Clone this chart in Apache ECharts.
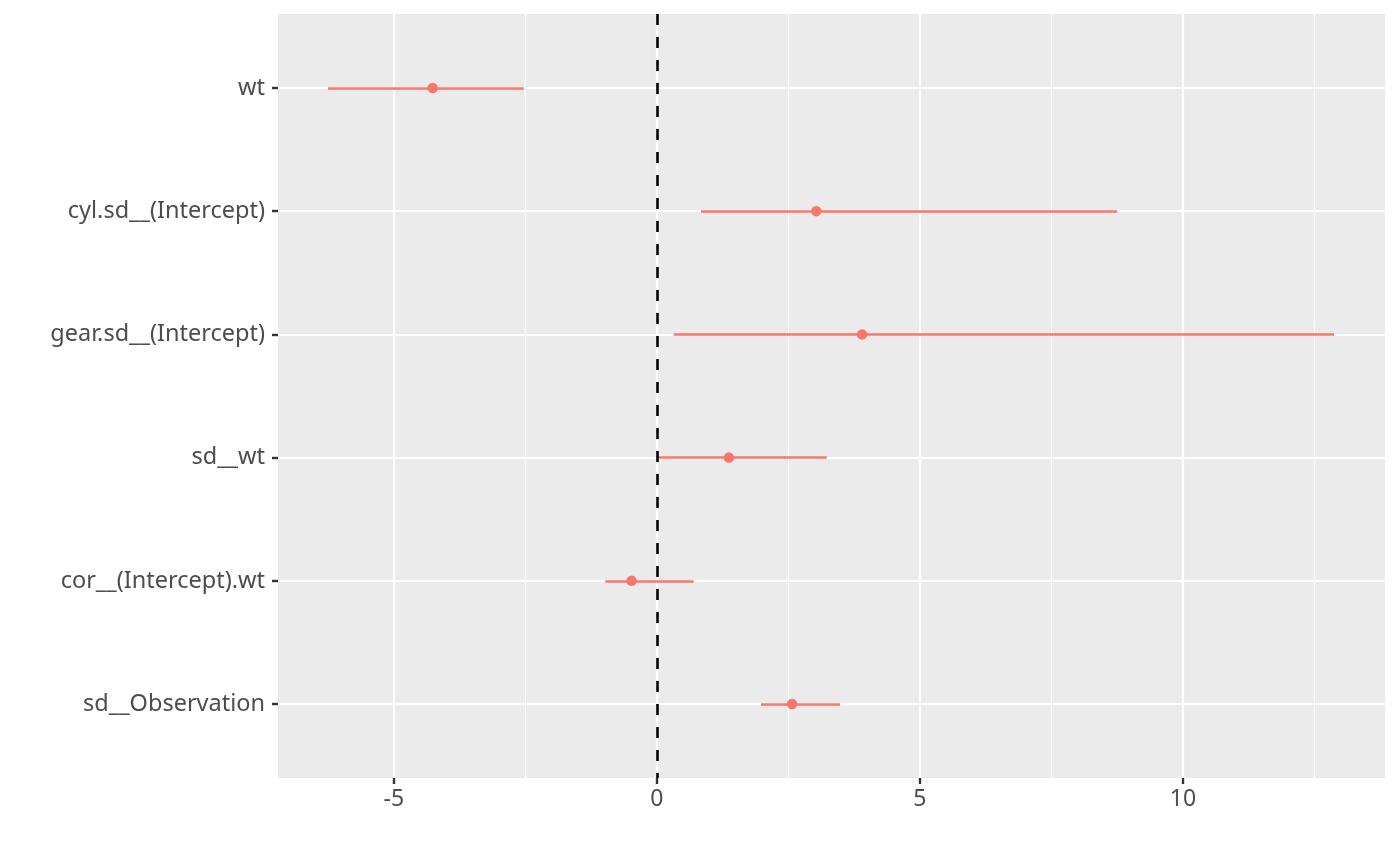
<!DOCTYPE html>
<html lang="en">
<head>
    <meta charset="UTF-8">
    <title>Coefficient plot</title>
    <script src="https://cdn.jsdelivr.net/npm/echarts@6.0.0/dist/echarts.min.js"></script>
    <style>
        html, body { margin: 0; padding: 0; background: #fff; }
        #chart { width: 1400px; height: 865px; }
    </style>
</head>
<body>
    <div id="chart"></div>
<script>
    // terms, top to bottom
    var terms = ['wt', 'cyl.sd__(Intercept)', 'gear.sd__(Intercept)', 'sd__wt', 'cor__(Intercept).wt', 'sd__Observation'];
    var estimate = [-4.26, 3.03, 3.90, 1.37, -0.48, 2.57];
    var lower = [-6.25, 0.84, 0.32, 0.01, -0.98, 1.98];
    var upper = [-2.53, 8.75, 12.87, 3.23, 0.70, 3.48];
    var xMajor = [-5, 0, 5, 10];
    var xMinor = [-2.5, 2.5, 7.5, 12.5];

    var chart = echarts.init(document.getElementById('chart'));

    var rows = terms.map(function (t, i) { return i + 1; });
    var pointData = estimate.map(function (v, i) { return [v, i + 1]; });

    // panel grid lines
    var gridLines = xMinor.map(function (v) {
        return { xAxis: v, lineStyle: { color: '#fff', width: 1.1, type: 'solid' } };
    }).concat(xMajor.map(function (v) {
        return { xAxis: v, lineStyle: { color: '#fff', width: 2.2, type: 'solid' } };
    })).concat(rows.map(function (v) {
        return { yAxis: v, lineStyle: { color: '#fff', width: 2.2, type: 'solid' } };
    }));

    // interval bars lower..upper
    var bars = lower.map(function (v, i) {
        return [{ coord: [v, i + 1] }, { coord: [upper[i], i + 1] }];
    });

    var option = {
        animation: false,
        textStyle: { fontFamily: 'Noto Sans' },
        grid: { left: 278, right: 15, top: 14, bottom: 87, show: true, backgroundColor: '#EBEBEB', borderWidth: 0 },
        xAxis: {
            type: 'value', min: -7.2, max: 13.84,
            axisLine: { show: true, onZero: false, lineStyle: { color: '#333', opacity: 0 } },
            splitLine: { show: false },
            axisTick: { show: true, customValues: xMajor, length: 6, lineStyle: { color: '#333333', width: 2.4 } },
            axisLabel: { customValues: xMajor, color: '#4D4D4D', fontSize: 23, margin: 10 }
        },
        yAxis: {
            type: 'value', min: 0.4, max: 6.6, inverse: true,
            axisLine: { show: true, onZero: false, lineStyle: { color: '#333', opacity: 0 } },
            splitLine: { show: false },
            axisTick: { show: true, customValues: rows, length: 6, lineStyle: { color: '#333333', width: 2.4 } },
            axisLabel: {
                customValues: rows, color: '#4D4D4D', fontSize: 23.5, margin: 13,
                formatter: function (v) { return terms[Math.round(v) - 1] || ''; }
            }
        },
        series: [{
            type: 'scatter', data: [], silent: true, z: 1,
            markLine: { silent: true, symbol: 'none', label: { show: false }, animation: false, data: gridLines }
        }, {
            type: 'scatter', data: [], silent: true, z: 3,
            markLine: { silent: true, symbol: 'none', label: { show: false }, animation: false,
                lineStyle: { color: '#F8766D', width: 2.5, type: 'solid' }, data: bars }
        }, {
            type: 'scatter', data: [], silent: true, z: 4,
            markLine: { silent: true, symbol: 'none', label: { show: false }, animation: false,
                data: [{ xAxis: 0, lineStyle: { color: '#000', width: 2.6, type: [11, 12] } }] }
        }, {
            type: 'scatter', data: pointData, symbol: 'circle', symbolSize: 10.5, silent: true,
            itemStyle: { color: '#F8766D', opacity: 1 }, z: 5
        }]
    };
    chart.setOption(option);
</script>
</body>
</html>
